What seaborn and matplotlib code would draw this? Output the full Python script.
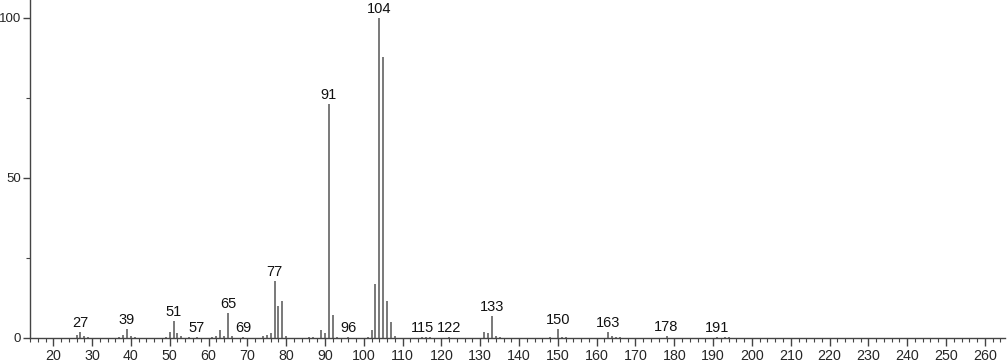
import matplotlib
matplotlib.use("Agg")
import matplotlib.pyplot as plt
import seaborn as sns
import pandas as pd
from matplotlib.ticker import MultipleLocator

mz = [26, 27, 28, 29, 37, 38, 39, 40, 41, 49, 50, 51, 52, 53, 55, 57, 61, 62, 63, 64,
      65, 66, 69, 74, 75, 76, 77, 78, 79, 80, 86, 87, 89, 90, 91, 92, 93, 96, 101, 102,
      103, 104, 105, 106, 107, 108, 115, 116, 117, 122, 131, 132, 133, 134, 135, 148, 150,
      151, 152, 163, 164, 165, 166, 178, 191, 193, 194]
intensity = [0.8, 1.8, 0.5, 0.4, 0.4, 0.8, 2.7, 0.5, 0.4, 0.3, 1.8, 5.3, 1.5, 0.5, 0.3, 0.4,
             0.3, 0.7, 2.5, 0.5, 7.7, 0.6, 0.4, 0.5, 0.8, 1.5, 17.9, 10.0, 11.6, 0.5, 0.3, 0.4,
             2.5, 1.7, 73.1, 7.2, 0.4, 0.4, 0.4, 2.5, 17.0, 100.0, 87.8, 11.5, 4.9, 0.5, 0.4,
             0.3, 0.3, 0.4, 1.9, 1.5, 6.9, 0.6, 0.4, 0.3, 2.8, 0.4, 0.3, 2.0, 0.5, 0.4, 0.3,
             0.6, 0.4, 0.4, 0.3]
labeled_peaks = [27, 39, 51, 57, 65, 69, 77, 91, 96, 104, 115, 122, 133, 150, 163, 178, 191]

df = pd.DataFrame({"mz": mz, "intensity": intensity})

sns.set_theme(style="ticks")
plt.rcParams["font.family"] = ["Liberation Sans", "DejaVu Sans"]

fig = plt.figure(figsize=(10.07, 3.62), dpi=100)
ax = fig.add_axes([30 / 1007, 24 / 362, 975 / 1007, 338 / 362])

ax.vlines(df["mz"], 0, df["intensity"], color="#555555", linewidth=1.1)

lookup = dict(zip(mz, intensity))
for p in labeled_peaks:
    ax.annotate(str(p), xy=(p, lookup[p]), xytext=(0, 1.5), textcoords="offset points",
                ha="center", va="bottom", fontsize=10.5, color="#111111")

ax.set_xlim(14.0, 265.2)
ax.set_ylim(0, 105.6)
ax.xaxis.set_major_locator(MultipleLocator(10))
ax.xaxis.set_minor_locator(MultipleLocator(2))
ax.yaxis.set_major_locator(MultipleLocator(50))
ax.yaxis.set_minor_locator(MultipleLocator(25))
ax.tick_params(axis="x", which="major", direction="out", length=6, width=1, color="#444444",
               labelsize=10.3, pad=2)
ax.tick_params(axis="x", which="minor", direction="out", length=3, width=0.8, color="#444444")
ax.tick_params(axis="y", which="major", direction="out", length=5, width=1, color="#444444",
               labelsize=9.5, pad=1.5)
ax.tick_params(axis="y", which="minor", direction="out", length=3, width=0.8, color="#444444")
for s in ["top", "right"]:
    ax.spines[s].set_visible(False)
for s in ["left", "bottom"]:
    ax.spines[s].set_color("#444444")
    ax.spines[s].set_linewidth(1)
ax.set_xlabel("")
ax.set_ylabel("")

fig.savefig("out.png", dpi=100)
